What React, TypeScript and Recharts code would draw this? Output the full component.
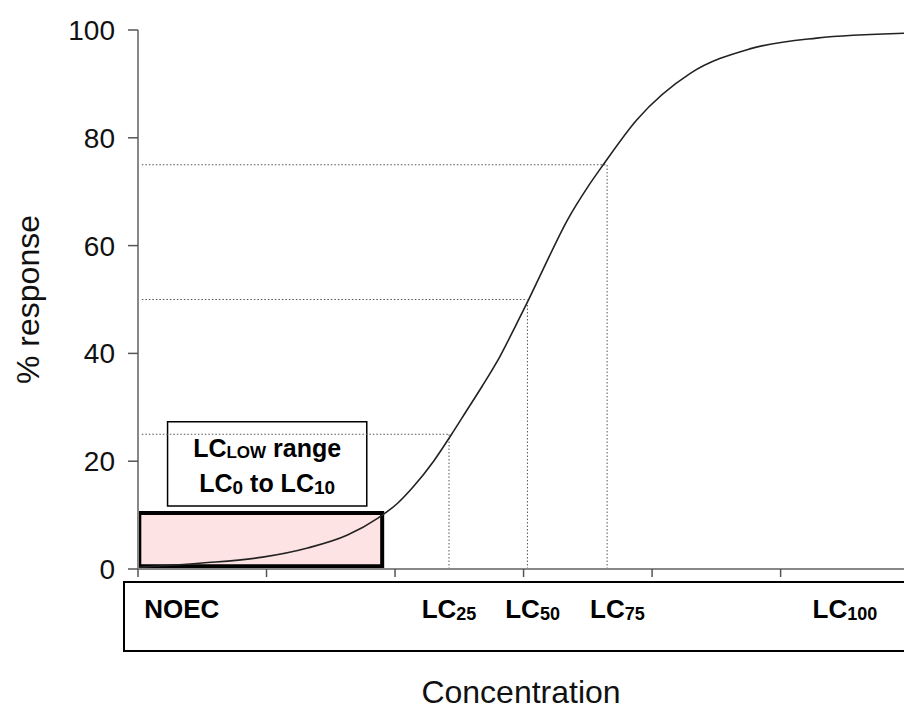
import React from "react";
import { ComposedChart, Line, XAxis, YAxis, ReferenceLine, ReferenceArea } from "recharts";

const FONT = "'Liberation Sans', Arial, sans-serif";

// dose-response curve
const concentration = [0, 0.5, 0.97, 1.32, 1.63, 1.87, 2.02, 2.14, 2.3, 2.44, 2.56, 2.68, 2.82, 2.94, 3.03, 3.15, 3.34, 3.5, 3.62, 3.88, 4.3, 4.76, 5.28, 5.96];
const response = [0.3, 1.1, 2.2, 3.9, 6.3, 9.5, 12.2, 15.2, 20.0, 25.0, 29.5, 34.0, 39.6, 45.2, 49.5, 55.5, 64.7, 70.9, 75.0, 83.3, 92.0, 96.5, 98.5, 99.4];

const yTicks = [0, 20, 40, 60, 80, 100];
const xTicks = [0, 1, 2, 3, 4, 5];

// dotted guides: across from the y axis, then down to the x axis
const guideLevels = [25, 50, 75];
const guideConc = [2.42, 3.03, 3.65];

const markerNames = ["NOEC", "LC", "LC", "LC", "LC"];
const markerSubs = ["", "25", "50", "75", "100"];
const markerConc = [0.34, 2.42, 3.07, 3.73, 5.5];

// LC0 to LC10
const lowConc = [0, 1.9];
const lowLevel = 10;

const data = concentration.map((c, i) => ({ c, r: response[i] }));

function MarkerTick({ x, y, payload }: any) {
  const i = markerConc.indexOf(payload.value);
  if (i < 0) return null;
  return (
    <text x={x} y={y + 36} textAnchor="middle" fontSize={26} fontWeight="bold" fill="#000" fontFamily={FONT}>
      {markerNames[i]}
      {markerSubs[i] ? <tspan fontSize={18} dy={2}>{markerSubs[i]}</tspan> : null}
    </text>
  );
}

function LowRangeLabel({ viewBox }: any) {
  const cx = viewBox.x + viewBox.width / 2;
  const top = viewBox.y;
  return (
    <g fontFamily={FONT} fontWeight="bold" fill="#000">
      <text x={cx} y={top + 35} fontSize={25} textAnchor="middle">
        LC<tspan fontSize={17} dy={1}>LOW</tspan>
        <tspan dy={-1}> range</tspan>
      </text>
      <text x={cx} y={top + 70} fontSize={25} textAnchor="middle">
        LC<tspan fontSize={19} dy={2}>0</tspan>
        <tspan dy={-2}> to LC</tspan>
        <tspan fontSize={19} dy={2}>10</tspan>
      </text>
    </g>
  );
}

function YLabel({ viewBox }: any) {
  const cx = viewBox.x + 28;
  const cy = viewBox.y + viewBox.height / 2;
  return (
    <text x={cx} y={cy} transform={`rotate(-90 ${cx} ${cy})`} textAnchor="middle" dominantBaseline="central"
      fontSize={32} fill="#111" fontFamily={FONT}>
      % response
    </text>
  );
}

export default function App() {
  return (
    <div style={{ position: "absolute", left: 0, top: 0, width: 904, height: 709, overflow: "hidden", background: "#fff" }}>
      <ComposedChart width={904} height={709} data={data} margin={{ top: 30, right: 0, bottom: 0, left: 0 }}>
        <XAxis xAxisId="c" dataKey="c" type="number" domain={[0, 5.96]} ticks={xTicks} interval={0}
          tickFormatter={() => ""} tickSize={8} height={13}
          axisLine={{ stroke: "#888", strokeWidth: 2 }} tickLine={{ stroke: "#555", strokeWidth: 1.5 }} />
        <XAxis xAxisId="m" dataKey="c" type="number" domain={[0, 5.96]} ticks={markerConc} interval={0}
          axisLine={false} tickLine={false} tickSize={0} tickMargin={0} height={127} tick={<MarkerTick />}
          label={{ value: "Concentration", position: "insideBottom", offset: 6, fontSize: 32, fill: "#111", fontFamily: FONT }} />
        <YAxis type="number" domain={[0, 100]} ticks={yTicks} interval={0} width={138}
          tickSize={10} tickMargin={13}
          axisLine={{ stroke: "#888", strokeWidth: 2 }} tickLine={{ stroke: "#555", strokeWidth: 1.5 }}
          tick={{ fontSize: 28, fill: "#111", fontFamily: FONT }}
          label={<YLabel />} />

        <ReferenceArea xAxisId="c" x1={lowConc[0] + 0.01} x2={lowConc[1]} y1={0.5} y2={lowLevel + 0.4}
          fill="#fde3e3" fillOpacity={1} stroke="#000" strokeWidth={4} ifOverflow="visible" />

        {guideLevels.map((lv, i) => (
          <ReferenceLine key={"h" + lv} xAxisId="c" segment={[{ x: 0.03, y: lv }, { x: guideConc[i], y: lv }]}
            stroke="#555" strokeWidth={1} strokeDasharray="1.5 2" />
        ))}
        {guideLevels.map((lv, i) => (
          <ReferenceLine key={"v" + lv} xAxisId="c" segment={[{ x: guideConc[i], y: 0 }, { x: guideConc[i], y: lv }]}
            stroke="#555" strokeWidth={1} strokeDasharray="1.5 2" />
        ))}

        <Line xAxisId="c" type="monotone" dataKey="r" stroke="#222" strokeWidth={1.6} dot={false}
          activeDot={false} isAnimationActive={false} />

        <ReferenceArea xAxisId="c" x1={0.23} x2={1.78} y1={11.7} y2={27.3}
          fill="#fff" fillOpacity={1} stroke="#000" strokeWidth={1.5} label={<LowRangeLabel />} />
      </ComposedChart>
      <div style={{ position: "absolute", left: 123, top: 581, width: 800, height: 71, boxSizing: "border-box",
        border: "2px solid #000", pointerEvents: "none" }} />
    </div>
  );
}
